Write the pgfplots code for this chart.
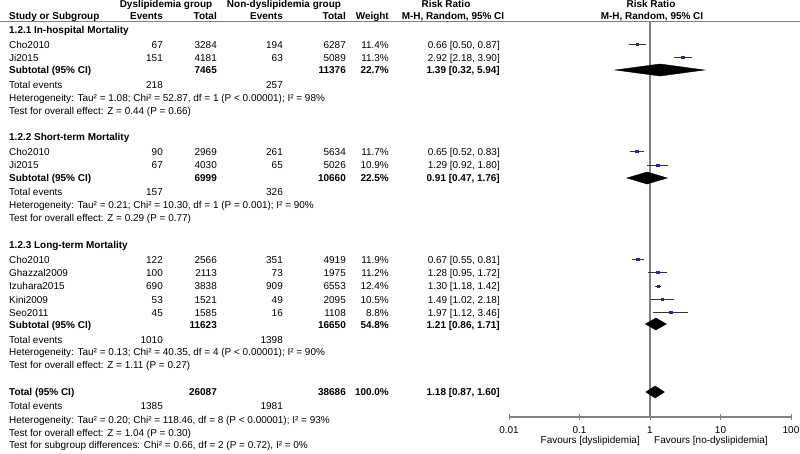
\documentclass[border=0pt]{standalone}
\usepackage{fontspec}
\setmainfont{Liberation Sans}
\usepackage{pgfplots}
\usepackage{pgfplotstable}
\pgfplotsset{compat=1.18}

\definecolor{sq}{RGB}{40,40,150}
\definecolor{ln}{RGB}{128,128,128}

% study estimates: risk ratio, CI, row (px from top)
\pgfplotstableread{
rr   lo   hi   y
0.66 0.50 0.87 44
2.92 2.18 3.90 57
0.65 0.52 0.83 151
1.29 0.92 1.80 165
0.67 0.55 0.81 259
1.28 0.95 1.72 272
1.30 1.18 1.42 286
1.49 1.02 2.18 299
1.97 1.12 3.46 312
}\studies

\newcommand\row[8]{%
  \node[L] at (9,#1) {#2};
  \node[R] at (163,#1) {#3};
  \node[R] at (217,#1) {#4};
  \node[R] at (283,#1) {#5};
  \node[R] at (346,#1) {#6};
  \node[R] at (389,#1) {#7};
  \node[R] at (500,#1) {#8};}

\begin{document}
\begin{tikzpicture}[every node/.append style={font=\fontsize{10}{12}\selectfont}]
\useasboundingbox (0,0) rectangle (800bp,-454bp);
\begin{axis}[
    at={(509bp,-417bp)}, anchor=south west,
    scale only axis, width=282bp, height=396bp,
    xmode=log, xmin=0.01, xmax=100, ymin=-417, ymax=-21,
    axis x line*=bottom, axis y line=none,
    x axis line style={-, ln, line width=1.1bp},
    xtick={0.01,0.1,1,10,100}, xticklabels={0.01,0.1,1,10,100},
    minor xtick={},
    xtick align=center, major tick length=6bp,
    xtick style={draw=ln, line width=1bp},
    xticklabel style={anchor=mid, inner sep=0pt, yshift=-11bp, font=\fontsize{10}{12}\selectfont},
    /pgf/number format/assume math mode=true,
    clip=false,
]
\draw[ln, line width=1.2bp] (axis cs:1,-21) -- (axis cs:1,-417);
% confidence intervals
\addplot[black!80, line width=0.9bp] coordinates {(0.50,-44) (0.87,-44)};
\addplot[black!80, line width=0.9bp] coordinates {(2.18,-57) (3.90,-57)};
\addplot[black!80, line width=0.9bp] coordinates {(0.52,-151) (0.83,-151)};
\addplot[black!80, line width=0.9bp] coordinates {(0.92,-165) (1.80,-165)};
\addplot[black!80, line width=0.9bp] coordinates {(0.55,-259) (0.81,-259)};
\addplot[black!80, line width=0.9bp] coordinates {(0.95,-272) (1.72,-272)};
\addplot[black!80, line width=0.9bp] coordinates {(1.18,-286) (1.42,-286)};
\addplot[black!80, line width=0.9bp] coordinates {(1.02,-299) (2.18,-299)};
\addplot[black!80, line width=0.9bp] coordinates {(1.12,-312) (3.46,-312)};
\addplot[only marks, mark=square*, mark size=1.2bp, sq] table[x=rr, y expr=-\thisrow{y}] {\studies};
% pooled diamonds
\addplot[fill=black, draw=black] coordinates {(0.32,-70) (1.39,-64) (5.94,-70) (1.39,-76)} -- cycle;
\addplot[fill=black, draw=black] coordinates {(0.47,-178) (0.91,-172) (1.76,-178) (0.91,-184)} -- cycle;
\addplot[fill=black, draw=black] coordinates {(0.86,-324) (1.21,-318) (1.71,-324) (1.21,-330)} -- cycle;
\addplot[fill=black, draw=black] coordinates {(0.87,-392) (1.18,-386) (1.60,-392) (1.18,-398)} -- cycle;
\end{axis}
\begin{scope}[x=1bp, y=-1bp, L/.style={anchor=mid west, inner sep=0pt},
  R/.style={anchor=mid east, inner sep=0pt}, C/.style={anchor=mid, inner sep=0pt}]
\draw[ln, line width=1.2bp] (0,21.5) -- (800,21.5);
\begin{scope}[every node/.append style={font=\fontsize{10}{12}\selectfont\bfseries}]
\node[C] at (166,5) {Dyslipidemia group};
\node[C] at (284,5) {Non-dyslipidemia group};
\node[C] at (446,5) {Risk Ratio};
\node[C] at (651,5) {Risk Ratio};
\node[L] at (9,17) {Study or Subgroup};
\node[R] at (163,17) {Events};
\node[R] at (217,17) {Total};
\node[R] at (283,17) {Events};
\node[R] at (346,17) {Total};
\node[R] at (389,17) {Weight};
\node[C] at (453,17) {M-H, Random, 95\% CI};
\node[C] at (652,17) {M-H, Random, 95\% CI};
\node[L] at (9,31) {1.2.1 In-hospital Mortality};
\row{71}{Subtotal (95\% CI)}{}{7465}{}{11376}{22.7\%}{1.39 [0.32, 5.94]}
\node[L] at (9,138) {1.2.2 Short-term Mortality};
\row{179}{Subtotal (95\% CI)}{}{6999}{}{10660}{22.5\%}{0.91 [0.47, 1.76]}
\node[L] at (9,246) {1.2.3 Long-term Mortality};
\row{326}{Subtotal (95\% CI)}{}{11623}{}{16650}{54.8\%}{1.21 [0.86, 1.71]}
\row{393}{Total (95\% CI)}{}{26087}{}{38686}{100.0\%}{1.18 [0.87, 1.60]}
\end{scope}
\row{46}{Cho2010}{67}{3284}{194}{6287}{11.4\%}{0.66 [0.50, 0.87]}
\row{59}{Ji2015}{151}{4181}{63}{5089}{11.3\%}{2.92 [2.18, 3.90]}
\row{86}{Total events}{218}{}{257}{}{}{}
\node[L] at (9,99) {Heterogeneity: Tau² = 1.08; Chi² = 52.87, df = 1 (P < 0.00001); I² = 98\%};
\node[L] at (9,112) {Test for overall effect: Z = 0.44 (P = 0.66)};
\row{153}{Cho2010}{90}{2969}{261}{5634}{11.7\%}{0.65 [0.52, 0.83]}
\row{166}{Ji2015}{67}{4030}{65}{5026}{10.9\%}{1.29 [0.92, 1.80]}
\row{193}{Total events}{157}{}{326}{}{}{}
\node[L] at (9,206) {Heterogeneity: Tau² = 0.21; Chi² = 10.30, df = 1 (P = 0.001); I² = 90\%};
\node[L] at (9,219) {Test for overall effect: Z = 0.29 (P = 0.77)};
\row{261}{Cho2010}{122}{2566}{351}{4919}{11.9\%}{0.67 [0.55, 0.81]}
\row{274}{Ghazzal2009}{100}{2113}{73}{1975}{11.2\%}{1.28 [0.95, 1.72]}
\row{287}{Izuhara2015}{690}{3838}{909}{6553}{12.4\%}{1.30 [1.18, 1.42]}
\row{301}{Kini2009}{53}{1521}{49}{2095}{10.5\%}{1.49 [1.02, 2.18]}
\row{314}{Seo2011}{45}{1585}{16}{1108}{8.8\%}{1.97 [1.12, 3.46]}
\row{341}{Total events}{1010}{}{1398}{}{}{}
\node[L] at (9,353) {Heterogeneity: Tau² = 0.13; Chi² = 40.35, df = 4 (P < 0.00001); I² = 90\%};
\node[L] at (9,366) {Test for overall effect: Z = 1.11 (P = 0.27)};
\row{407}{Total events}{1385}{}{1981}{}{}{}
\node[L] at (9,421) {Heterogeneity: Tau² = 0.20; Chi² = 118.46, df = 8 (P < 0.00001); I² = 93\%};
\node[L] at (9,434) {Test for overall effect: Z = 1.04 (P = 0.30)};
\node[L] at (9,446) {Test for subgroup differences: Chi² = 0.66, df = 2 (P = 0.72), I² = 0\%};
\node[R] at (640,441) {Favours [dyslipidemia]};
\node[L] at (654,441) {Favours [no-dyslipidemia]};
\end{scope}
\end{tikzpicture}
\end{document}
